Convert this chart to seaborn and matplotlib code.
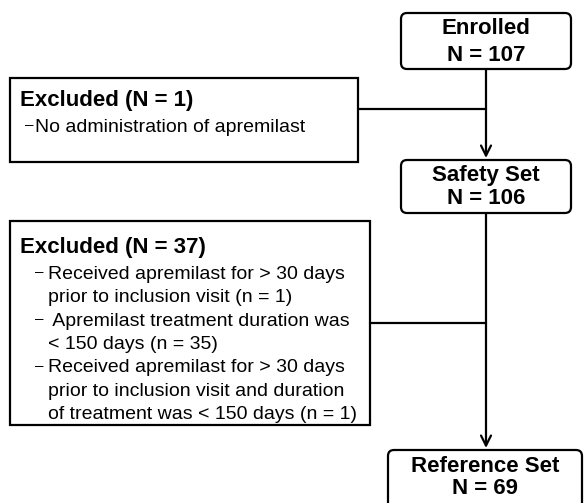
import matplotlib
matplotlib.use('Agg')
import matplotlib.pyplot as plt
import seaborn as sns
from matplotlib.patches import FancyBboxPatch, Rectangle

sns.set_style('white')
plt.rcParams['font.family'] = ['Liberation Sans', 'DejaVu Sans']
plt.rcParams['text.color'] = 'black'

# Data: flow stages and exclusions
stage_names = ['Enrolled', 'Safety Set', 'Reference Set']
stage_counts = [107, 106, 69]
excl_counts = [1, 37]
excl_reasons = [
    [['No administration of apremilast']],
    [['Received apremilast for > 30 days', 'prior to inclusion visit (n = 1)'],
     [' Apremilast treatment duration was', '< 150 days (n = 35)'],
     ['Received apremilast for > 30 days', 'prior to inclusion visit and duration',
      'of treatment was < 150 days (n = 1)']],
]

# layout (pixel coordinates, y downwards)
stage_boxes = [(401, 13, 170, 56), (401, 160, 170, 53), (388, 450, 194, 60)]
stage_text_y = [(28, 55), (175, 198), (467, 489)]
excl_boxes = [(10, 78, 348, 84), (10, 221, 360, 204)]
excl_title_y = [100, 247]
excl_join_y = [109, 323]
cx = 486

fig = plt.figure(figsize=(5.84, 5.03), dpi=100)
ax = fig.add_axes([0, 0, 1, 1])
ax.set_xlim(0, 584)
ax.set_ylim(503, 0)
ax.axis('off')

lw = 1.6
for (x, y, w, h), name, n, (ty1, ty2) in zip(stage_boxes, stage_names, stage_counts, stage_text_y):
    ax.add_patch(FancyBboxPatch((x + 6, y + 6), w - 12, h - 12,
                                boxstyle='round,pad=6', fc='white', ec='black', lw=lw))
    ax.text(x + w / 2, ty1, name, ha='center', va='center', fontsize=16, fontweight='bold')
    ax.text(x + w / 2, ty2, f'N = {n}', ha='center', va='center', fontsize=16, fontweight='bold')

# vertical arrows between stages
for i in range(2):
    y0 = stage_boxes[i][1] + stage_boxes[i][3]
    y1 = stage_boxes[i + 1][1] - 2
    ax.annotate('', xy=(cx, y1), xytext=(cx, y0),
                arrowprops=dict(arrowstyle='->', lw=lw, color='black',
                                mutation_scale=18, shrinkA=0, shrinkB=0))

for (x, y, w, h), n, reasons, ty, jy in zip(excl_boxes, excl_counts, excl_reasons,
                                             excl_title_y, excl_join_y):
    ax.add_patch(Rectangle((x, y), w, h, fc='white', ec='black', lw=lw))
    ax.plot([x + w, cx], [jy, jy], color='black', lw=lw)
    ax.text(x + 10, ty, f'Excluded (N = {n})', ha='left', va='center',
            fontsize=16, fontweight='bold')
    yy = ty + 27
    single = len(reasons) == 1
    dash_x = x + 15 if single else x + 25
    text_x = x + 25 if single else x + 38
    for bullet in reasons:
        for j, line in enumerate(bullet):
            if j == 0:
                ax.text(dash_x, yy + 2.5, '–', ha='left', va='baseline', fontsize=11)
            ax.text(text_x, yy + 5, line, ha='left', va='baseline', fontsize=14)
            yy += 23.3

fig.savefig('out.png', dpi=100)
